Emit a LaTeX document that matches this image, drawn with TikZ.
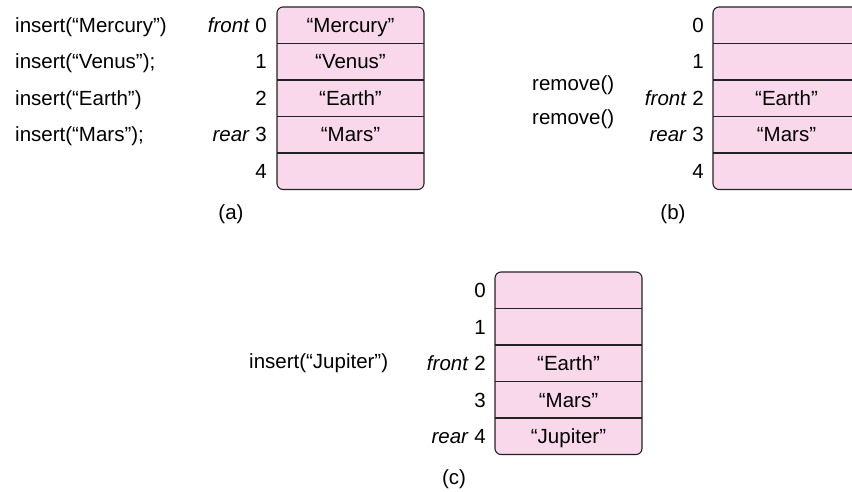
\documentclass[tikz,border=0pt]{standalone}
\usepackage{fontspec}
\setmainfont{Liberation Sans}
\usetikzlibrary{positioning}
\definecolor{cellpink}{HTML}{F9D8EC}
\definecolor{edgegray}{HTML}{222222}

\begin{document}
\begin{tikzpicture}[x=1pt,y=-1pt,
	every node/.style={font=\fontsize{20.5}{23}\selectfont,text height=14.5pt,text depth=0pt},
	cell/.style={minimum width=147pt,minimum height=36.5pt,inner sep=0pt,outer sep=0pt},
	idx/.style={anchor=east,inner sep=0pt},
	op/.style={anchor=west,inner sep=0pt},
	box/.style={draw=edgegray,fill=cellpink,rounded corners=6pt,line width=1.1pt},
	sep/.style={draw=edgegray,line width=1.1pt}]
	\useasboundingbox (0,0) rectangle (852,492);
	% (a) cuatro inserciones
	\draw[box](277,7)rectangle +(147,182.5);
	\foreach \i/\txt/\lab in
	{0/{“Mercury”}/{\textit{front} 0},
		1/{“Venus”}/1,
		2/{“Earth”}/2,
		3/{“Mars”}/{\textit{rear} 3},
		4/{}/4}{
		\pgfmathsetmacro\yc{25.25+36.5*\i}
		\node[cell](a\i)at(350.5,\yc){\txt};
		\node[idx](ai\i)at(267,\yc){\lab};
	}
	\foreach \i in {0,...,3}\draw[sep](a\i.south west)--(a\i.south east);
	\foreach \i/\txt in {0/{insert(“Mercury”)},1/{insert(“Venus”);},2/{insert(“Earth”)},3/{insert(“Mars”);}}{
		\node[op](ao\i)at(15,{25.25+36.5*\i}){\txt};
	}
	\node(capa)at(231,212){(a)};
	% (b) dos remove()
	\draw[box](713,7)rectangle +(147,182.5);
	\foreach \i/\txt/\lab in
	{0/{}/0,
		1/{}/1,
		2/{“Earth”}/{\textit{front} 2},
		3/{“Mars”}/{\textit{rear} 3},
		4/{}/4}{
		\pgfmathsetmacro\yc{25.25+36.5*\i}
		\node[cell](b\i)at(786.5,\yc){\txt};
		\node[idx](bi\i)at(704,\yc){\lab};
	}
	\foreach \i in {0,...,3}\draw[sep](b\i.south west)--(b\i.south east);
	\node[op](bo1)at(532,83){remove()};
	\node[op](bo2)at(532,117){remove()};
	\node(capb)at(673,212){(b)};
	% (c) insert de Jupiter
	\draw[box](495,272)rectangle +(147,182.5);
	\foreach \i/\txt/\lab in
	{0/{}/0,
		1/{}/1,
		2/{“Earth”}/{\textit{front} 2},
		3/{“Mars”}/3,
		4/{“Jupiter”}/{\textit{rear} 4}}{
		\pgfmathsetmacro\yc{290.25+36.5*\i}
		\node[cell](c\i)at(568.5,\yc){\txt};
		\node[idx](ci\i)at(486,\yc){\lab};
	}
	\foreach \i in {0,...,3}\draw[sep](c\i.south west)--(c\i.south east);
	\node[op](co2)at(249,361){insert(“Jupiter”)};
	\node(capc)at(454,477){(c)};
\end{tikzpicture}
\end{document}
